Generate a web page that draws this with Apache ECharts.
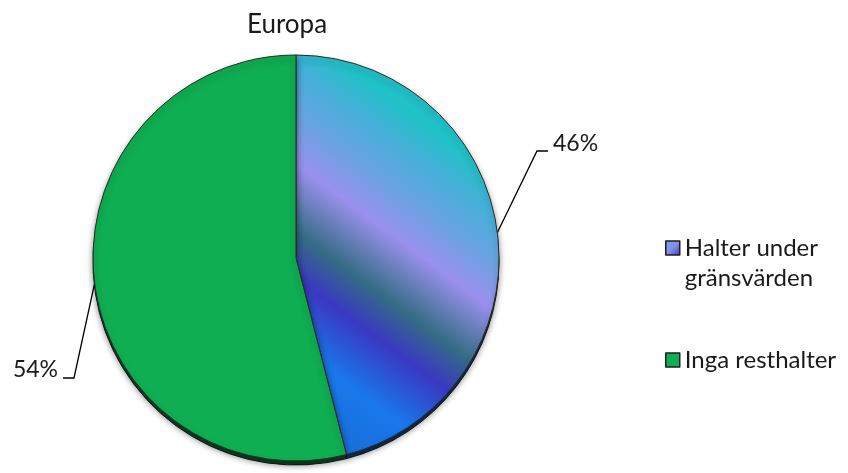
<!DOCTYPE html>
<html>
<head>
<meta charset="utf-8">
<script src="https://cdn.jsdelivr.net/npm/echarts@6.0.0/dist/echarts.min.js"></script>
<style>
  html, body { margin: 0; padding: 0; background: #ffffff; }
  #chart { width: 848px; height: 473px; }
</style>
</head>
<body>
<div id="chart"></div>
<script>
// Chart content
const chartTitle = 'Europa';
const categories = ['Halter under gränsvärden', 'Inga resthalter'];
// a leading empty line keeps the swatch level with the first wrapped line
const legendLabels = ['\nHalter under\ngränsvärden', 'Inga resthalter'];
const values = [46, 54];

const FONT = 'Lato';
const TEXT = '#1a1a1a';
const CX = 296, CY = 258, R = 203;

// Sheen across the blue slice (global pixel coordinates, top-right to bottom-left)
const blueSheen = {
  type: 'linear', global: true,
  x: 416, y: 96, x2: 214, y2: 370,
  colorStops: [
    { offset: 0.00, color: '#22c0c8' },
    { offset: 0.05, color: '#20c2c8' },
    { offset: 0.14, color: '#44b0d8' },
    { offset: 0.26, color: '#6ca2e2' },
    { offset: 0.37, color: '#9a90ee' },
    { offset: 0.53, color: '#356c84' },
    { offset: 0.64, color: '#3a38c2' },
    { offset: 0.80, color: '#1878ea' },
    { offset: 1.00, color: '#1a6cd6' }
  ]
};
const blueIcon = {
  type: 'linear', x: 0, y: 0, x2: 1, y2: 1,
  colorStops: [
    { offset: 0, color: '#5fb0e0' },
    { offset: 0.5, color: '#8c8ce8' },
    { offset: 1, color: '#2a3ab8' }
  ]
};
const green = '#0fae52';

const chart = echarts.init(document.getElementById('chart'), null, { renderer: 'canvas' });

function legendFor(i, top) {
  return {
    left: 665,
    top: top,
    padding: 0,
    orient: 'vertical',
    icon: 'rect',
    itemWidth: 14,
    itemHeight: 14,
    selectedMode: false,
    itemStyle: { borderColor: '#1e1e1e', borderWidth: 1.5 },
    data: [{ name: categories[i], itemStyle: { color: i === 0 ? blueIcon : green, borderColor: '#1e1e1e', borderWidth: 1.5 } }],
    formatter: function () { return legendLabels[i]; },
    textStyle: { fontFamily: FONT, fontSize: 24, color: TEXT, lineHeight: 30 }
  };
}

chart.setOption({
  animation: false,
  backgroundColor: '#ffffff',
  title: {
    text: chartTitle,
    left: 282,
    top: 7,
    textAlign: 'center',
    textStyle: { fontFamily: FONT, fontSize: 26, fontWeight: 'normal', color: TEXT }
  },
  legend: [
    legendFor(0, 203),
    legendFor(1, 345)
  ],
  series: [
    {
      name: 'Europa',
      type: 'pie',
      z: 3,
      center: [CX, CY],
      radius: R,
      startAngle: 90,
      clockwise: true,
      avoidLabelOverlap: false,
      itemStyle: {
        borderColor: '#2b2b2b',
        borderWidth: 1,
        shadowBlur: 6,
        shadowOffsetY: 4,
        shadowColor: 'rgba(0,0,0,0.45)'
      },
      label: {
        show: true,
        fontFamily: FONT,
        fontSize: 23,
        color: TEXT,
        formatter: function (p) { return p.value + '%'; }
      },
      labelLine: {
        show: true,
        lineStyle: { color: '#000000', width: 1.3 }
      },
      labelLayout: function (p) {
        const start = p.labelLinePoints[0];
        if (p.dataIndex === 0) {
          return {
            x: 553, y: 144, align: 'left', verticalAlign: 'middle',
            labelLinePoints: [start, [537, 151], [548, 151]]
          };
        }
        return {
          x: 58, y: 370, align: 'right', verticalAlign: 'middle',
          labelLinePoints: [start, [74, 378], [63, 378]]
        };
      },
      emphasis: { disabled: true },
      data: [
        { name: categories[0], value: values[0], itemStyle: { color: blueSheen } },
        { name: categories[1], value: values[1], itemStyle: { color: green } }
      ]
    },
    {
      // darker rim under the disc
      type: 'pie',
      z: 2,
      silent: true,
      center: [CX, CY + 4],
      radius: R,
      startAngle: 90,
      clockwise: true,
      label: { show: false },
      labelLine: { show: false },
      itemStyle: { borderColor: '#1a1a1a', borderWidth: 1 },
      emphasis: { disabled: true },
      data: [
        { name: 'rim-a', value: values[0], itemStyle: { color: '#123c74' } },
        { name: 'rim-b', value: values[1], itemStyle: { color: '#0a5a2c' } }
      ]
    }
  ]
});
</script>
</body>
</html>
